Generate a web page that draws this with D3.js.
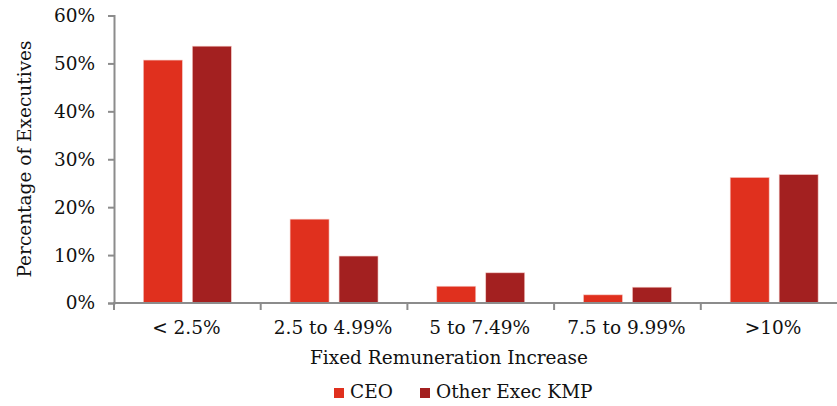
<!DOCTYPE html>
<html>
<head>
<meta charset="utf-8">
<script src="https://cdn.jsdelivr.net/npm/d3@7/dist/d3.min.js"></script>
<style>
  html, body { margin: 0; padding: 0; background: #fff; }
  svg { display: block; }
  text { font-family: "DejaVu Serif", "Liberation Serif", serif; fill: #111; }
</style>
</head>
<body>
<svg id="chart" width="837" height="406"></svg>
<script>
// Share of executives by size of fixed remuneration increase
const categories = ["< 2.5%", "2.5 to 4.99%", "5 to 7.49%", "7.5 to 9.99%", ">10%"];
const seriesNames = ["CEO", "Other Exec KMP"];
const ceoValues = [50.7, 17.5, 3.5, 1.7, 26.2];
const otherExecValues = [53.6, 9.8, 6.3, 3.3, 26.8];
const yTickValues = [0, 10, 20, 30, 40, 50, 60];
const colors = ["#E0301E", "#A32020"];

const svg = d3.select("#chart");
const plotLeft = 114, plotTop = 15.5, plotBottom = 303;
const catWidth = 146.7;
const plotRight = plotLeft + catWidth * categories.length;
const fontSize = "18.5px";

const x = d3.scaleBand().domain(categories).range([plotLeft, plotRight]).paddingInner(0).paddingOuter(0);
const inner = d3.scaleBand().domain(seriesNames).range([0, x.bandwidth()]).paddingInner(0.204).paddingOuter(0.6);
const y = d3.scaleLinear().domain([0, 60]).range([plotBottom, plotTop]);

const rows = categories.map((c, i) => ({ cat: c, values: [ceoValues[i], otherExecValues[i]] }));

// Bars
svg.append("g").selectAll("g")
  .data(rows).join("g")
  .attr("transform", d => `translate(${x(d.cat)},0)`)
  .selectAll("rect")
  .data(d => d.values.map((v, j) => ({ name: seriesNames[j], v, j })))
  .join("rect")
  .attr("x", d => inner(d.name))
  .attr("width", inner.bandwidth())
  .attr("y", d => y(d.v))
  .attr("height", d => y(0) - y(d.v))
  .attr("fill", d => colors[d.j])
  .attr("stroke", "#f4c9c4")
  .attr("stroke-width", 0.6);

// Y axis
const yAxis = svg.append("g")
  .attr("transform", `translate(${plotLeft},0)`)
  .call(d3.axisLeft(y).tickValues(yTickValues).tickFormat(d => d + "%").tickSize(6).tickPadding(13));
yAxis.select(".domain").attr("stroke", "#8c8c8c").attr("stroke-width", 2);
yAxis.selectAll(".tick line").attr("stroke", "#8c8c8c").attr("stroke-width", 2);
yAxis.selectAll(".tick text").style("font-size", fontSize).attr("fill", "#111")
  .style("font-family", "'DejaVu Serif', serif");

// X axis: baseline with ticks at category boundaries
const xg = svg.append("g");
xg.append("line")
  .attr("x1", plotLeft - 1).attr("x2", 837)
  .attr("y1", y(0)).attr("y2", y(0))
  .attr("stroke", "#8c8c8c").attr("stroke-width", 2);
xg.selectAll("line.tick")
  .data(categories).join("line")
  .attr("class", "tick")
  .attr("x1", d => x(d)).attr("x2", d => x(d))
  .attr("y1", y(0)).attr("y2", y(0) + 7)
  .attr("stroke", "#8c8c8c").attr("stroke-width", 2);
xg.selectAll("text")
  .data(categories).join("text")
  .attr("x", d => x(d) + x.bandwidth() / 2 - 1)
  .attr("y", 334)
  .attr("text-anchor", "middle")
  .style("font-size", fontSize)
  .text(d => d);

// Axis titles
svg.append("text")
  .attr("x", 449).attr("y", 364)
  .attr("text-anchor", "middle")
  .style("font-size", fontSize)
  .text("Fixed Remuneration Increase");

svg.append("text")
  .attr("transform", `translate(31,159) rotate(-90)`)
  .attr("text-anchor", "middle")
  .style("font-size", fontSize)
  .text("Percentage of Executives");

// Legend
const legendX = [334, 420];
const legend = svg.append("g").selectAll("g")
  .data(seriesNames).join("g")
  .attr("transform", (d, i) => `translate(${legendX[i]},388)`);
legend.append("rect").attr("width", 10).attr("height", 10).attr("fill", (d, i) => colors[i]);
legend.append("text").attr("x", 16).attr("y", 10).style("font-size", fontSize).text(d => d);
</script>
</body>
</html>
